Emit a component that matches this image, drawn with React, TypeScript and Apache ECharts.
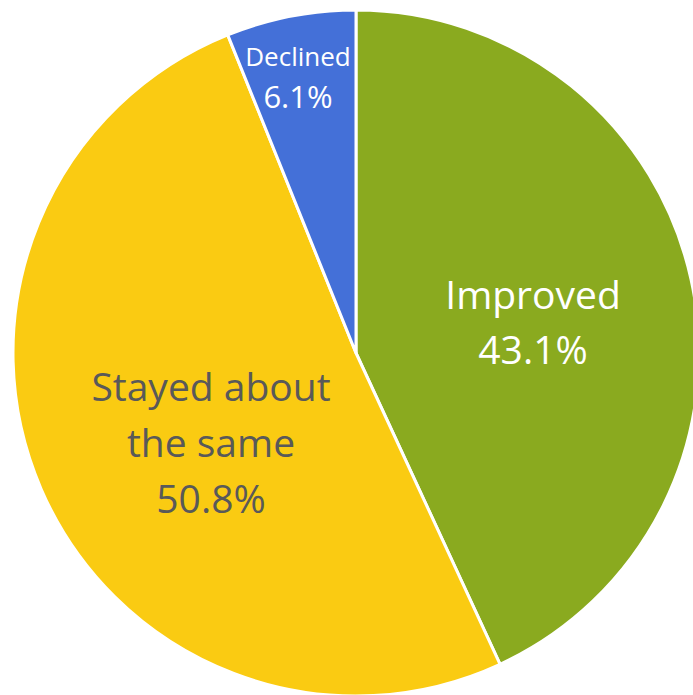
import React, { useEffect, useRef } from "react";
import * as echarts from "echarts";

const categories = ["Improved", "Stayed about\nthe same", "Declined"];
const values = [43.1, 50.8, 6.1];
const colors = ["#8AAA1F", "#FACB12", "#4470D8"];
const labelColors = ["#FFFFFF", "#595959", "#FFFFFF"];
const nameSizes = [39, 39, 26];
const pctSizes = [39, 39, 31];
const labelLineHeights = [55, 56, 40];
const labelSpots = [
  [533, 321],
  [211, 441],
  [298, 76],
];

export default function App() {
  const ref = useRef<HTMLDivElement>(null);
  useEffect(() => {
    if (!ref.current) return;
    const chart = echarts.init(ref.current, null, { renderer: "svg" });
    chart.setOption({
      animation: false,
      backgroundColor: "#FFFFFF",
      series: [
        {
          type: "pie",
          center: [356, 353],
          radius: 343,
          startAngle: 90,
          clockwise: true,
          itemStyle: { borderColor: "#FFFFFF", borderWidth: 3 },
          labelLine: { show: false },
          data: categories.map((name, i) => ({
            name,
            value: values[i],
            itemStyle: { color: colors[i] },
            label: {
              show: true,
              position: "inside",
              color: labelColors[i],
              fontFamily: "Open Sans",
              align: "center",
              formatter: (p: any) =>
                p.name
                  .split("\n")
                  .map((s: string) => `{n|${s}}`)
                  .join("\n") + `\n{p|${values[p.dataIndex].toFixed(1)}%}`,
              rich: {
                n: {
                  fontSize: nameSizes[i],
                  lineHeight: labelLineHeights[i],
                  color: labelColors[i],
                  fontFamily: "Open Sans",
                  align: "center",
                },
                p: {
                  fontSize: pctSizes[i],
                  lineHeight: labelLineHeights[i],
                  color: labelColors[i],
                  fontFamily: "Open Sans",
                  align: "center",
                },
              },
            },
          })),
          labelLayout: (params: any) => ({
            x: labelSpots[params.dataIndex][0],
            y: labelSpots[params.dataIndex][1],
            align: "center",
            verticalAlign: "middle",
          }),
        },
      ],
    });
    return () => chart.dispose();
  }, []);
  return (
    <div
      ref={ref}
      style={{ position: "fixed", left: 0, top: 0, width: 693, height: 695 }}
    />
  );
}
